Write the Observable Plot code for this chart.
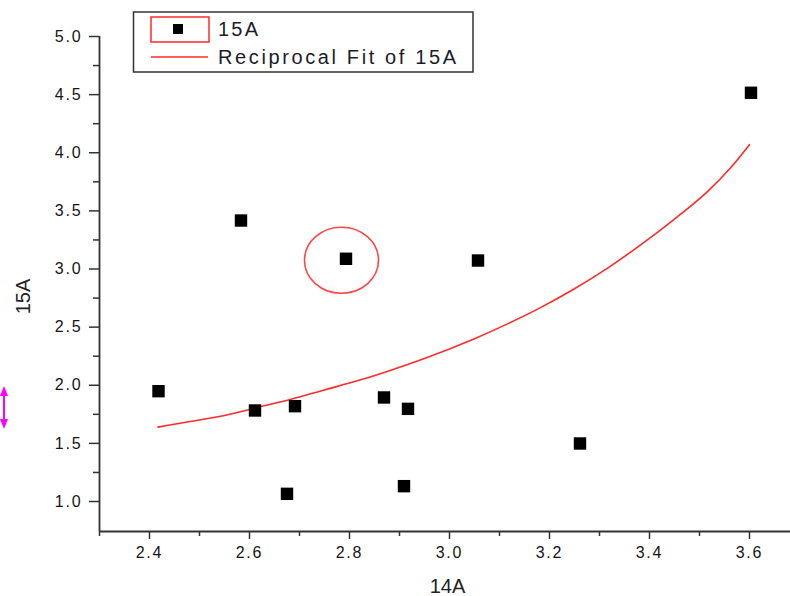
<!DOCTYPE html>
<html>
<head>
<meta charset="utf-8">
<script src="https://cdn.jsdelivr.net/npm/d3@7"></script>
<script src="https://cdn.jsdelivr.net/npm/@observablehq/plot@0.6"></script>
<style>
  body { margin: 0; background: #fff; }
  #chart svg [aria-label$="tick label"] text { letter-spacing: 1.8px; }
</style>
</head>
<body>
<div id="chart"></div>
<script>
// ---- data ----
const x14A = [2.418, 2.583, 2.793, 2.611, 2.691, 2.675, 2.869, 2.917, 2.909, 3.057, 3.261, 3.603];
const y15A = [1.949, 3.417, 3.088, 1.783, 1.820, 1.066, 1.895, 1.797, 1.132, 3.073, 1.499, 4.516];
const fitX = [2.417, 2.47, 2.55, 2.617, 2.683, 2.75, 2.817, 2.883, 2.95, 3.05, 3.117, 3.183, 3.25, 3.317, 3.383, 3.45, 3.517, 3.56, 3.6];
const fitY = [1.64, 1.68, 1.74, 1.81, 1.88, 1.96, 2.04, 2.13, 2.23, 2.40, 2.53, 2.67, 2.83, 3.01, 3.21, 3.43, 3.67, 3.86, 4.07];
const xMajorTicks = [2.4, 2.6, 2.8, 3.0, 3.2, 3.4, 3.6];
const xMinorTicks = [2.3, 2.5, 2.7, 2.9, 3.1, 3.3, 3.5];
const yMajorTicks = [1.0, 1.5, 2.0, 2.5, 3.0, 3.5, 4.0, 4.5, 5.0];
const yMinorTicks = [1.25, 1.75, 2.25, 2.75, 3.25, 3.75, 4.25, 4.75];
const xDomain = [2.3, 3.682];
const yDomain = [0.742, 5.0];
const xLabel = "14A";
const yLabel = "15A";
const legendLabels = ["15A", "Reciprocal Fit of 15A"];
const highlightIndex = 2;

const points = x14A.map((x, i) => ({x, y: y15A[i]}));
const fit = fitX.map((x, i) => ({x, y: fitY[i]}));

const FONT = "'Liberation Sans', Arial, sans-serif";
const AXIS = "#333";
const RED = "#ff2a2a";

function highlight(index, scales) {
  const g = d3.create("svg:g");
  g.append("ellipse")
    .attr("cx", scales.x(x14A[highlightIndex]) - 4)
    .attr("cy", scales.y(y15A[highlightIndex]) + 2)
    .attr("rx", 37).attr("ry", 33)
    .attr("fill", "none").attr("stroke", "#ff4545").attr("stroke-width", 1.6);
  return g.node();
}

function legend() {
  const g = d3.create("svg:g").attr("font-family", FONT).attr("text-anchor", "start");
  g.append("rect").attr("x", 133.5).attr("y", 12).attr("width", 339.5).attr("height", 60)
    .attr("fill", "#fff").attr("stroke", AXIS).attr("stroke-width", 1.5);
  g.append("rect").attr("x", 151).attr("y", 17).attr("width", 58).attr("height", 25)
    .attr("fill", "none").attr("stroke", RED).attr("stroke-width", 1.5);
  g.append("rect").attr("x", 173).attr("y", 24).attr("width", 10).attr("height", 10).attr("fill", "#000");
  g.append("line").attr("x1", 151).attr("x2", 208).attr("y1", 57).attr("y2", 57)
    .attr("stroke", RED).attr("stroke-width", 1.5);
  g.append("text").attr("x", 218).attr("y", 36).attr("font-size", 20).attr("fill", "#1c1c28")
    .attr("textLength", 40).attr("lengthAdjust", "spacing").text(legendLabels[0]);
  g.append("text").attr("x", 218).attr("y", 64).attr("font-size", 20).attr("fill", "#1c1c28")
    .attr("textLength", 238).attr("lengthAdjust", "spacing").text(legendLabels[1]);
  // magenta double arrow at left edge
  const m = "#ff00ff";
  g.append("line").attr("x1", 4).attr("x2", 4).attr("y1", 392).attr("y2", 423).attr("stroke", m).attr("stroke-width", 2);
  g.append("path").attr("d", "M4,386L0,396L8,396Z").attr("fill", m);
  g.append("path").attr("d", "M4,429L0,419L8,419Z").attr("fill", m);
  return g.node();
}

const chart = Plot.plot({
  width: 790,
  height: 596,
  marginLeft: 99,
  marginRight: 0,
  marginTop: 36,
  marginBottom: 65,
  style: {fontFamily: FONT, background: "#fff", overflow: "visible"},
  x: {domain: xDomain, axis: null},
  y: {domain: yDomain, axis: null},
  marks: [
    Plot.axisX({ticks: xMinorTicks, tickSize: 5, tickFormat: () => "", label: null, stroke: AXIS, strokeWidth: 1.5}),
    Plot.axisX({ticks: xMajorTicks, tickSize: 8, tickPadding: 7, tickFormat: d3.format(".1f"), label: null,
      stroke: AXIS, strokeWidth: 1.5, fontSize: 16, fill: "#151515"}),
    Plot.axisY({ticks: yMinorTicks, tickSize: 6, tickFormat: () => "", label: null, stroke: AXIS, strokeWidth: 1.5}),
    Plot.axisY({ticks: yMajorTicks, tickSize: 10, tickPadding: 7, tickFormat: d3.format(".1f"), label: null,
      stroke: AXIS, strokeWidth: 1.5, fontSize: 16, fill: "#151515"}),
    Plot.ruleX([xDomain[0]], {stroke: AXIS, strokeWidth: 1.8}),
    Plot.ruleY([yDomain[0]], {stroke: AXIS, strokeWidth: 1.8}),
    Plot.line(fit, {x: "x", y: "y", stroke: RED, strokeWidth: 1.6, curve: "monotone-x"}),
    Plot.dot(points, {x: "x", y: "y", symbol: "square", r: 7, fill: "#000", stroke: "none"}),
    highlight,
    Plot.text([xLabel], {frameAnchor: "bottom", textAnchor: "middle", lineAnchor: "middle", dx: 2.5, dy: 55,
      text: d => d, fontSize: 20, fill: "#222"}),
    Plot.text([yLabel], {frameAnchor: "left", textAnchor: "middle", lineAnchor: "middle", dx: -76, dy: 12.5,
      rotate: -90, text: d => d, fontSize: 20, fill: "#222"}),
    legend
  ]
});
document.getElementById("chart").appendChild(chart);
</script>
</body>
</html>
